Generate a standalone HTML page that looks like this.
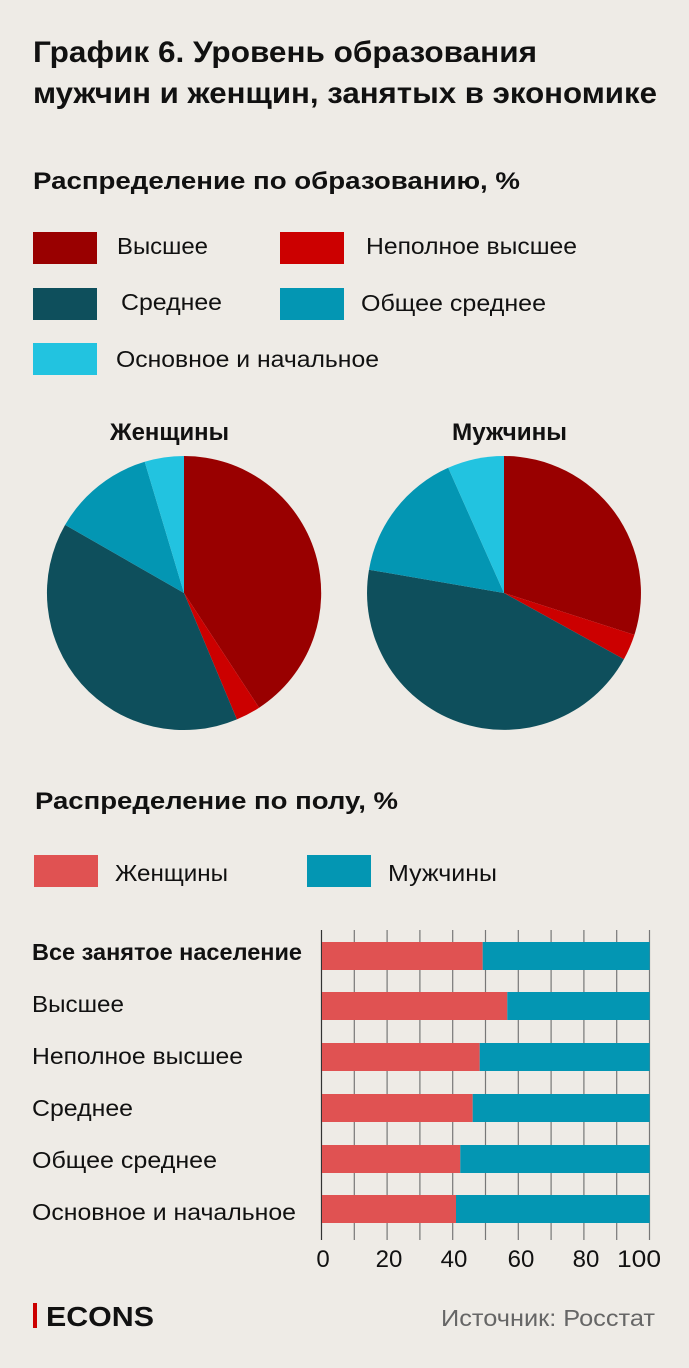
<!DOCTYPE html>
<html><head><meta charset="utf-8"><style>
html,body{margin:0;padding:0;background:#eeebe6;}
svg{display:block;font-family:"Liberation Sans",sans-serif;}
</style></head><body>
<svg width="689" height="1368" viewBox="0 0 689 1368" xmlns="http://www.w3.org/2000/svg">
<rect width="689" height="1368" fill="#eeebe6"/>
<g font-weight="bold" fill="#111" font-size="30">
<text x="33" y="62" textLength="504" lengthAdjust="spacingAndGlyphs">График 6. Уровень образования</text>
<text x="33" y="103" textLength="624" lengthAdjust="spacingAndGlyphs">мужчин и женщин, занятых в экономике</text>
</g>
<text x="33" y="189" font-size="24" font-weight="bold" fill="#111" textLength="487" lengthAdjust="spacingAndGlyphs">Распределение по образованию, %</text>
<g font-size="23" fill="#111">
<rect x="33" y="232" width="64" height="32" fill="#990000"/><text x="117" y="254" textLength="91" lengthAdjust="spacingAndGlyphs">Высшее</text>
<rect x="280" y="232" width="64" height="32" fill="#cc0000"/><text x="366" y="254" textLength="211" lengthAdjust="spacingAndGlyphs">Неполное высшее</text>
<rect x="33" y="288" width="64" height="32" fill="#0e4f5c"/><text x="121" y="310" textLength="101" lengthAdjust="spacingAndGlyphs">Среднее</text>
<rect x="280" y="288" width="64" height="32" fill="#0396b3"/><text x="361" y="311" textLength="185" lengthAdjust="spacingAndGlyphs">Общее среднее</text>
<rect x="33" y="343" width="64" height="32" fill="#22c3e0"/><text x="116" y="367" textLength="263" lengthAdjust="spacingAndGlyphs">Основное и начальное</text>
</g>
<g font-size="24" font-weight="bold" fill="#111">
<text x="110" y="440" textLength="119" lengthAdjust="spacingAndGlyphs">Женщины</text>
<text x="452" y="440" textLength="115" lengthAdjust="spacingAndGlyphs">Мужчины</text>
</g>
<path d="M184,593 L184,456 A137,137 0 0 1 259.1,707.7 Z" fill="#990000"/>
<path d="M184,593 L259.1,707.7 A137,137 0 0 1 236.9,719.4 Z" fill="#cc0000"/>
<path d="M184,593 L236.9,719.4 A137,137 0 0 1 65.1,524.9 Z" fill="#0e4f5c"/>
<path d="M184,593 L65.1,524.9 A137,137 0 0 1 144.7,461.8 Z" fill="#0396b3"/>
<path d="M184,593 L144.7,461.8 A137,137 0 0 1 184,456 Z" fill="#22c3e0"/>
<path d="M504,593 L504,456 A137,137 0 0 1 634.4,634.9 Z" fill="#990000"/>
<path d="M504,593 L634.4,634.9 A137,137 0 0 1 623.9,659.2 Z" fill="#cc0000"/>
<path d="M504,593 L623.9,659.2 A137,137 0 0 1 369,569.7 Z" fill="#0e4f5c"/>
<path d="M504,593 L369,569.7 A137,137 0 0 1 448.2,467.8 Z" fill="#0396b3"/>
<path d="M504,593 L448.2,467.8 A137,137 0 0 1 504,456 Z" fill="#22c3e0"/>
<text x="35" y="809" font-size="24" font-weight="bold" fill="#111" textLength="363" lengthAdjust="spacingAndGlyphs">Распределение по полу, %</text>
<g font-size="23" fill="#111">
<rect x="34" y="855" width="64" height="32" fill="#e05252"/><text x="115" y="881" textLength="113" lengthAdjust="spacingAndGlyphs">Женщины</text>
<rect x="307" y="855" width="64" height="32" fill="#0396b3"/><text x="388" y="881" textLength="109" lengthAdjust="spacingAndGlyphs">Мужчины</text>
</g>
<g stroke="#777" stroke-width="1.2">
<line x1="354.3" y1="930" x2="354.3" y2="1240"/><line x1="387.1" y1="930" x2="387.1" y2="1240"/>
<line x1="419.9" y1="930" x2="419.9" y2="1240"/><line x1="452.7" y1="930" x2="452.7" y2="1240"/>
<line x1="485.5" y1="930" x2="485.5" y2="1240"/><line x1="518.3" y1="930" x2="518.3" y2="1240"/>
<line x1="551.1" y1="930" x2="551.1" y2="1240"/><line x1="583.9" y1="930" x2="583.9" y2="1240"/>
<line x1="616.7" y1="930" x2="616.7" y2="1240"/><line x1="649.5" y1="930" x2="649.5" y2="1240"/>
<line x1="321.5" y1="930" x2="321.5" y2="1240" stroke="#333"/>
</g>
<g>
<rect x="322" y="942" width="160.7" height="28" fill="#e05252"/><rect x="482.7" y="942" width="167" height="28" fill="#0396b3"/>
<rect x="322" y="992" width="185.3" height="28" fill="#e05252"/><rect x="507.3" y="992" width="142.4" height="28" fill="#0396b3"/>
<rect x="322" y="1043" width="157.7" height="28" fill="#e05252"/><rect x="479.7" y="1043" width="170" height="28" fill="#0396b3"/>
<rect x="322" y="1094" width="150.7" height="28" fill="#e05252"/><rect x="472.7" y="1094" width="177" height="28" fill="#0396b3"/>
<rect x="322" y="1145" width="138.3" height="28" fill="#e05252"/><rect x="460.3" y="1145" width="189.4" height="28" fill="#0396b3"/>
<rect x="322" y="1195" width="134" height="28" fill="#e05252"/><rect x="456" y="1195" width="193.7" height="28" fill="#0396b3"/>
</g>
<g font-size="23" fill="#111">
<text x="32" y="960" font-weight="bold" textLength="270" lengthAdjust="spacingAndGlyphs">Все занятое население</text>
<text x="32" y="1012" textLength="92" lengthAdjust="spacingAndGlyphs">Высшее</text>
<text x="32" y="1064" textLength="211" lengthAdjust="spacingAndGlyphs">Неполное высшее</text>
<text x="32" y="1116" textLength="101" lengthAdjust="spacingAndGlyphs">Среднее</text>
<text x="32" y="1168" textLength="185" lengthAdjust="spacingAndGlyphs">Общее среднее</text>
<text x="32" y="1220" textLength="264" lengthAdjust="spacingAndGlyphs">Основное и начальное</text>
</g>
<g font-size="24" fill="#111" text-anchor="middle">
<text x="323" y="1267">0</text><text x="389" y="1267">20</text><text x="454" y="1267">40</text>
<text x="521" y="1267">60</text><text x="586" y="1267">80</text><text x="639" y="1267" textLength="44" lengthAdjust="spacingAndGlyphs">100</text>
</g>
<rect x="33" y="1303" width="4" height="25" fill="#cc0000"/>
<text x="46" y="1326" font-size="28" font-weight="bold" fill="#111" textLength="108" lengthAdjust="spacingAndGlyphs">ECONS</text>
<text x="441" y="1326" font-size="23" fill="#666" textLength="214" lengthAdjust="spacingAndGlyphs">Источник: Росстат</text>
</svg>
</body></html>
